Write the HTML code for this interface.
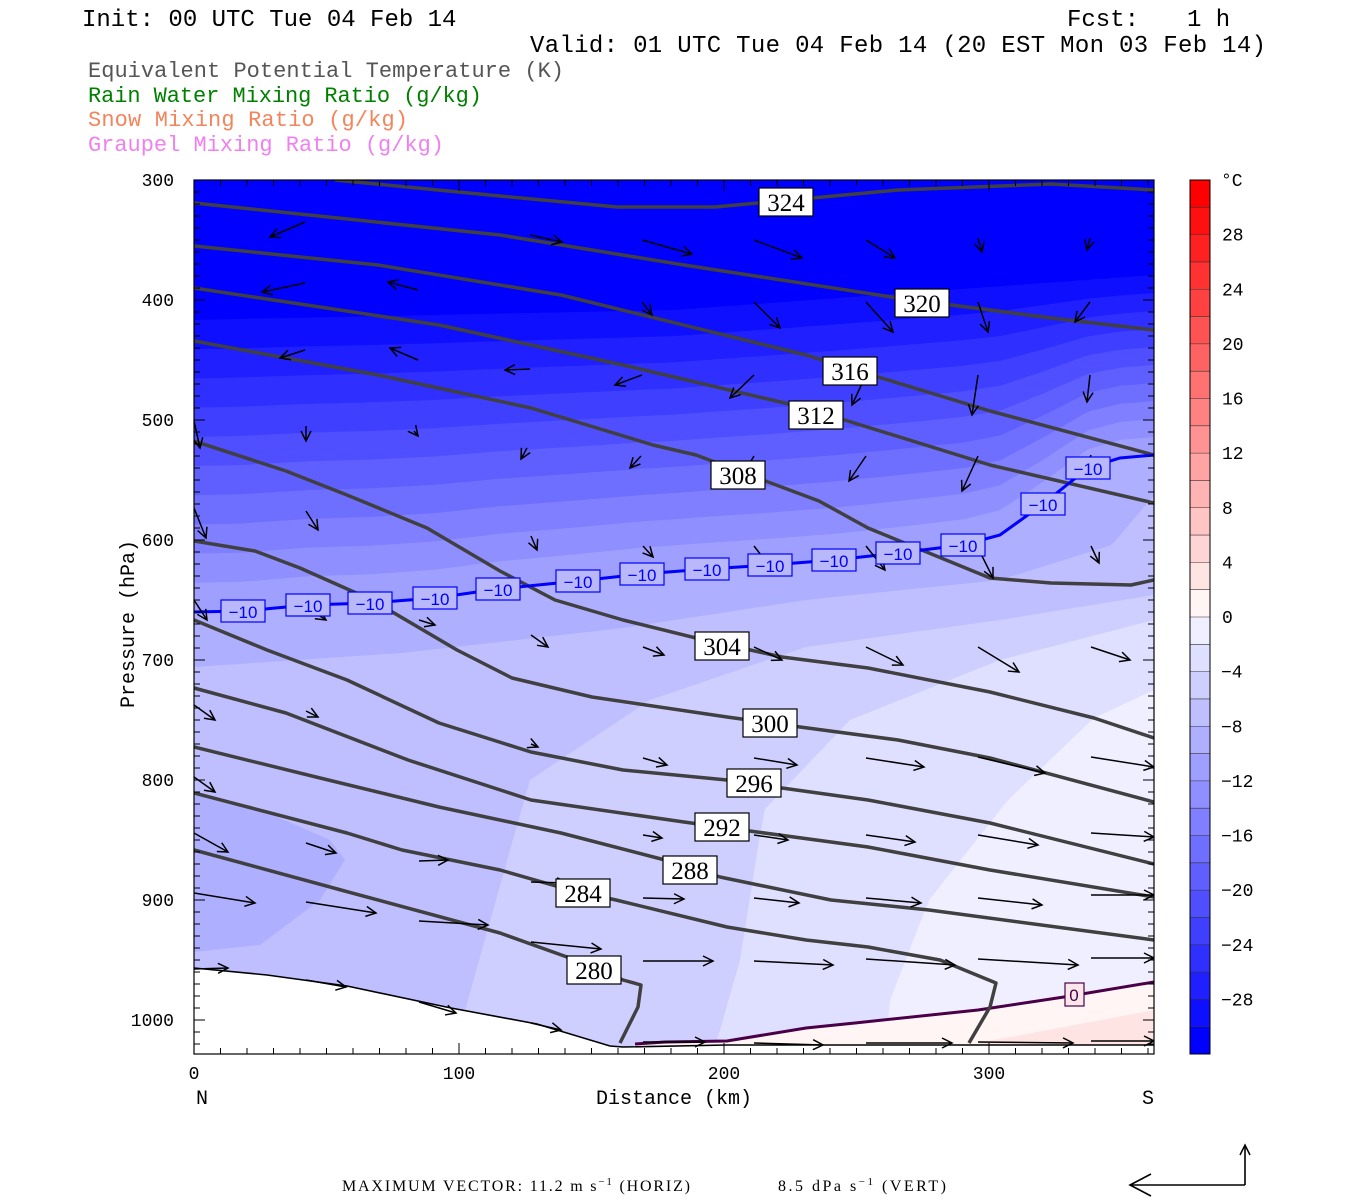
<!DOCTYPE html>
<html><head><meta charset="utf-8"><style>
body{margin:0;background:#fff;width:1350px;height:1200px;overflow:hidden}
svg{display:block}
.m{font-family:"Liberation Mono",monospace}
.s{font-family:"Liberation Serif",serif}
</style></head><body>
<svg id="sv" width="1350" height="1200" xmlns="http://www.w3.org/2000/svg">
<defs>
<marker id="ah" markerUnits="userSpaceOnUse" markerWidth="14" markerHeight="14" refX="11" refY="6" orient="auto"><polyline points="1,1 11,6 1,11" fill="none" stroke="#000" stroke-width="1.5"/></marker>
<marker id="ah2" markerUnits="userSpaceOnUse" markerWidth="30" markerHeight="30" refX="22" refY="12" orient="auto"><polyline points="1,1 22,12 1,23" fill="none" stroke="#000" stroke-width="1.6"/></marker>
<clipPath id="cp"><rect x="194" y="180" width="960" height="874"/></clipPath>
</defs>
<g class="m" font-size="24" fill="#000">
<text x="82" y="26">Init: 00 UTC Tue 04 Feb 14</text>
<text x="1067" y="26">Fcst:</text>
<text x="1187" y="26">1 h</text>
<text x="530" y="52" textLength="736">Valid: 01 UTC Tue 04 Feb 14 (20 EST Mon 03 Feb 14)</text>
</g>
<g class="m" font-size="22">
<text x="88" y="77" fill="#555" textLength="476">Equivalent Potential Temperature (K)</text>
<text x="88" y="102" fill="#008000" textLength="394">Rain Water Mixing Ratio (g/kg)</text>
<text x="88" y="126" fill="#f4845c" textLength="320">Snow Mixing Ratio (g/kg)</text>
<text x="88" y="151" fill="#f080f0" textLength="356">Graupel Mixing Ratio (g/kg)</text>
</g>
<g id="bg" clip-path="url(#cp)"></g>
<g id="fg" clip-path="url(#cp)"></g>
<rect x="194" y="180" width="960" height="874" fill="none" stroke="#000" stroke-width="1.2"/>
<g id="ax"></g>
<text class="s" x="342" y="1191" font-size="16" textLength="348">MAXIMUM VECTOR:  11.2 m s<tspan dy="-6" font-size="11">−1</tspan><tspan dy="6"> (HORIZ)</tspan></text>
<text class="s" x="778" y="1191" font-size="16" textLength="168">8.5 dPa s<tspan dy="-6" font-size="11">−1</tspan><tspan dy="6"> (VERT)</tspan></text>
<line x1="1245" y1="1185" x2="1130" y2="1185" stroke="#000" stroke-width="1.6" marker-end="url(#ah2)"/>
<line x1="1245" y1="1185" x2="1245" y2="1145" stroke="#000" stroke-width="1.6" marker-end="url(#ah)"/>
</svg>
<script>
var NS="http://www.w3.org/2000/svg";
function el(p,t,a,txt){var e=document.createElementNS(NS,t);for(var k in a)e.setAttribute(k,a[k]);if(txt!==undefined)e.textContent=txt;p.appendChild(e);return e;}
var bg=document.getElementById('bg'),fg=document.getElementById('fg'),ax=document.getElementById('ax');
function bandColor(j){var g;if(j<=15){g=Math.min(245,Math.round(j*16.3));return 'rgb(255,'+g+','+g+')';}g=Math.max(0,255-(j-15)*16);return 'rgb('+g+','+g+',255)';}
function colU(U){return bandColor((32-U)/2);}
function interp(p,x){if(x<=p[0][0])return p[0][1];for(var i=1;i<p.length;i++){if(x<=p[i][0]){var t=(x-p[i-1][0])/(p[i][0]-p[i-1][0]);return p[i-1][1]+t*(p[i][1]-p[i-1][1]);}}return p[p.length-1][1];}
var y30=[[194,320],[674,310],[1154,275]];
var m10=[[194,612],[243,611],[308,605],[370,603],[435,598],[498,589],[578,581],[642,574],[707,569],[770,565],[834,560],[898,553],[963,545],[1000,535],[1043,504],[1088,468],[1120,458],[1154,455]];
var iso={};
iso[-8]=[[194,667],[402,653],[623,628],[806,600],[1000,580],[1112,545],[1154,495]];
iso[-6]=[[194,1100],[440,1100],[510,850],[530,780],[650,700],[806,647],[1000,620],[1154,595]];
iso[-4]=[[194,1100],[700,1100],[740,960],[764,810],[850,720],[1000,660],[1154,620]];
iso[-2]=[[194,1100],[880,1100],[890,1000],[929,900],[1008,800],[1094,718],[1154,690]];
iso[0]=[[194,1100],[600,1100],[635,1045],[727,1041],[806,1028],[978,1010],[1064,997],[1154,982]];
iso[2]=[[194,1100],[960,1100],[978,1043],[1154,1010]];
el(bg,'rect',{x:190,y:176,width:970,height:890,fill:colU(-30)});
for(var T=-30;T<=2;T+=2){var pts=[];
 for(var x=190;x<=1160;x+=5){var y;
  if(T<-10){var a=interp(y30,x),b=interp(m10,x);y=a+(b-a)*(T+30)/20;}
  else if(T==-10)y=interp(m10,x);else y=interp(iso[T],x);
  pts.push(x+','+y.toFixed(1));}
 pts.push('1160,1070','190,1070');
 el(bg,'polygon',{points:pts.join(' '),fill:colU(T+2)});
 if(T==-8){el(bg,'polygon',{points:'194,795 250,805 330,840 345,860 320,900 260,945 194,952',fill:colU(-8)});}
}
el(bg,'polygon',{points:'194,968 267,975 347,986 451,1008 537,1024 610,1046 623,1047 727,1045 1154,1045 1154,1060 194,1060',fill:'#fff'});
el(fg,'polyline',{points:'194,968 267,975 347,986 451,1008 537,1024 610,1046 623,1047 727,1045 1154,1045',fill:'none',stroke:'#000','stroke-width':1.6});
el(fg,'polyline',{points:'635,1044 665,1042 727,1041 806,1028 855,1023 978,1010 1064,997 1154,982',fill:'none',stroke:'#4a0048','stroke-width':3});
var L=[
[[335,180],[500,196],[617,207],[715,207],[898,190],[1051,184],[1154,190]],
[[194,203],[500,235],[684,265],[898,298],[1051,318],[1154,330]],
[[194,246],[378,265],[561,295],[806,355],[990,411],[1154,455]],
[[194,288],[439,325],[623,365],[806,408],[990,465],[1154,503]],
[[194,341],[378,375],[531,408],[653,445],[696,455],[819,501],[868,528],[990,578],[1051,583],[1131,585],[1154,580]],
[[194,441],[286,471],[347,495],[427,528],[500,571],[555,600],[623,620],[696,638],[782,657],[868,668],[990,692],[1094,718],[1154,738]],
[[194,541],[255,551],[300,568],[372,600],[457,650],[512,678],[592,697],[727,717],[800,727],[898,740],[990,758],[1154,802]],
[[194,620],[267,650],[347,680],[439,723],[531,752],[623,770],[727,780],[782,788],[868,800],[990,823],[1154,864]],
[[194,688],[286,713],[408,760],[531,800],[684,822],[757,832],[868,847],[990,870],[1154,897]],
[[194,747],[316,777],[439,807],[561,833],[665,860],[720,877],[831,900],[929,910],[1064,928],[1154,940]],
[[194,793],[347,833],[402,850],[500,870],[570,890],[616,900],[727,927],[806,940],[868,947],[940,960],[996,983],[990,1007],[969,1043]],
[[194,850],[341,890],[500,933],[567,957],[623,980],[641,985],[638,1007],[620,1043]]];
L.forEach(function(p){el(fg,'polyline',{points:p.map(function(q){return q.join(',')}).join(' '),fill:'none',stroke:'#404040','stroke-width':3.5,'stroke-linejoin':'round'});});
el(fg,'polyline',{points:m10.map(function(q){return q.join(',')}).join(' '),fill:'none',stroke:'#0000ff','stroke-width':3});
var A=[
[305,222,270,237],[530,235,562,242],[642,240,692,254],[754,240,802,258],[866,240,895,258],[978,238,982,252],[1090,238,1087,250],
[305,283,262,292],[418,290,388,282],[642,302,652,315],[754,302,780,328],[866,302,893,332],[978,302,988,332],[1090,302,1075,322],
[305,350,280,358],[418,360,390,348],[530,369,505,370],[642,375,615,385],[754,375,730,398],[866,375,852,405],[978,375,972,415],[1090,375,1087,402],
[194,421,200,448],[306,426,306,441],[414,431,418,436],[527,448,521,459],[641,456,630,468],[754,456,739,481],[866,456,849,481],[978,456,962,491],[1091,455,1081,478],
[194,508,206,538],[306,511,318,530],[531,536,537,550],[643,546,653,557],[754,546,771,568],[866,546,885,570],[978,548,993,578],[1091,546,1099,563],
[194,600,207,620],[306,607,326,620],[419,620,435,625],[531,635,548,647],[643,647,664,655],[754,647,782,660],[866,647,903,665],[978,647,1019,672],[1091,647,1130,660],
[194,705,215,720],[306,711,318,717],[531,744,538,747],[643,758,667,765],[754,758,797,765],[866,758,924,767],[978,757,1045,773],[1091,757,1154,767],
[194,777,215,792],[194,833,228,852],[306,843,336,853],[419,861,448,860],[531,882,567,883],[643,835,662,838],[754,835,788,840],[866,835,915,842],[978,835,1038,845],[1091,833,1154,837],
[194,893,255,903],[306,902,376,913],[419,921,488,925],[531,942,601,949],[643,898,684,899],[754,898,799,903],[866,898,921,903],[978,898,1042,905],[1091,895,1154,895],
[194,969,228,968],[306,980,346,987],[419,1002,456,1013],[531,1023,561,1030],
[643,961,713,961],[754,961,833,965],[866,959,955,965],[978,959,1078,965],[1091,958,1154,958],
[643,1042,705,1042],[754,1043,823,1045],[866,1043,952,1043],[978,1042,1073,1043],[1091,1041,1154,1041]];
A.forEach(function(a){el(fg,'line',{x1:a[0],y1:a[1],x2:a[2],y2:a[3],stroke:'#000','stroke-width':1.5,'marker-end':'url(#ah)'});});
[[243,611],[308,605],[370,603],[435,598],[498,589],[578,581],[642,574],[707,569],[770,565],[834,560],[898,553],[963,545],[1043,504],[1088,468]].forEach(function(c){
 el(fg,'rect',{x:c[0]-22,y:c[1]-11,width:44,height:22,fill:'#b8b8fa',stroke:'#0000ff','stroke-width':1.2});
 el(fg,'text',{x:c[0],y:c[1]+7,'text-anchor':'middle','font-family':'Liberation Sans, sans-serif','font-size':17,fill:'#0000ff'},'−10');});
el(fg,'rect',{x:1065,y:983,width:19,height:23,fill:'#fbe6ea',stroke:'#4a0048','stroke-width':1.2});
el(fg,'text',{x:1074,y:1001,'text-anchor':'middle','font-family':'Liberation Sans, sans-serif','font-size':17,fill:'#4a0048'},'0');
[[786,202,'324'],[922,303,'320'],[850,371,'316'],[816,415,'312'],[738,475,'308'],[722,646,'304'],[770,723,'300'],[754,783,'296'],[722,827,'292'],[690,870,'288'],[583,893,'284'],[594,970,'280']].forEach(function(c){
 el(fg,'rect',{x:c[0]-27,y:c[1]-14,width:54,height:28,fill:'#fff',stroke:'#000','stroke-width':1.2});
 el(fg,'text',{x:c[0],y:c[1]+9,'text-anchor':'middle','font-family':'Liberation Serif, serif','font-size':25,fill:'#000'},c[2]);});
for(var p=300;p<=1020;p+=10){var y=180+(p-300)*1.2,l=(p%100==0)?11:6;
 el(ax,'line',{x1:194,y1:y,x2:194+l,y2:y,stroke:'#000','stroke-width':1});
 el(ax,'line',{x1:1154,y1:y,x2:1154-l,y2:y,stroke:'#000','stroke-width':1});
 if(p%100==0)el(ax,'text',{x:174,y:y+6,'text-anchor':'end','class':'m','font-size':18},''+p);}
for(var d=0;d<=360;d+=10){var x=194+d*2.65,l=(d%100==0)?11:6;
 el(ax,'line',{x1:x,y1:1054,x2:x,y2:1054-l,stroke:'#000','stroke-width':1});
 el(ax,'line',{x1:x,y1:180,x2:x,y2:180+l,stroke:'#000','stroke-width':1});
 if(d%100==0)el(ax,'text',{x:x,y:1079,'text-anchor':'middle','class':'m','font-size':18},''+d);}
el(ax,'text',{x:202,y:1104,'text-anchor':'middle','class':'m','font-size':20},'N');
el(ax,'text',{x:1148,y:1104,'text-anchor':'middle','class':'m','font-size':20},'S');
el(ax,'text',{x:674,y:1104,'text-anchor':'middle','class':'m','font-size':20},'Distance (km)');
el(ax,'text',{x:134,y:624,'text-anchor':'middle','class':'m','font-size':20,transform:'rotate(-90 134 624)'},'Pressure (hPa)');
var bh=874/32;
for(var j=0;j<32;j++){el(ax,'rect',{x:1190,y:180+j*bh,width:20,height:bh+0.3,fill:bandColor(j)});
 if(j>0)el(ax,'line',{x1:1190,y1:180+j*bh,x2:1210,y2:180+j*bh,stroke:'#333','stroke-width':0.6});}
el(ax,'rect',{x:1190,y:180,width:20,height:874,fill:'none',stroke:'#000','stroke-width':1});
el(ax,'text',{x:1221,y:186,'class':'m','font-size':18},'°C');
for(var v=28;v>=-28;v-=4){var y=180+(32-v)/2*bh;el(ax,'text',{x:(v<0?1221:1222),y:y+6,'class':'m','font-size':18},(v<0?'−':'')+Math.abs(v));}
</script>
</body></html>
